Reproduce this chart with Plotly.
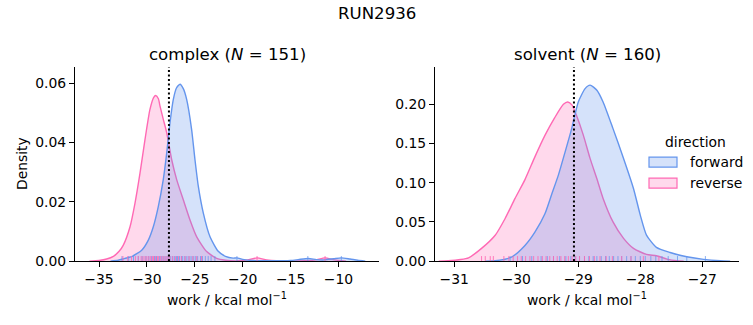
import plotly.graph_objects as go

# ---------------- data ----------------
# complex panel KDE curves
complex_rev_x = [-36.0, -35.0, -34.2, -33.5, -32.9, -32.46, -31.76, -31.24, -30.72, -30.2, -29.68,
                 -29.3, -29.08, -28.8, -28.63, -28.3, -27.93, -27.41, -26.89, -26.2, -25.5, -24.8,
                 -23.76, -22.71, -21.8, -20.5, -19.5, -18.5, -17.5, -16.5, -13.5, -12.4, -11.4,
                 -10.4, -9.2]
complex_rev_y = [0.0, 0.0002, 0.0007, 0.0016, 0.0033, 0.0054, 0.0116, 0.0196, 0.0297, 0.041, 0.0512,
                 0.0552, 0.0559, 0.0548, 0.0523, 0.048, 0.0433, 0.0342, 0.0275, 0.0207, 0.0139, 0.0082,
                 0.0032, 0.0009, 0.0003, 0.0001, 0.0004, 0.0011, 0.0004, 0.0001, 0.0001, 0.0004, 0.0011,
                 0.0004, 0.0]
complex_fwd_x = [-33.8, -33.0, -32.3, -31.59, -30.54, -29.85, -29.33, -28.81, -28.29, -27.93, -27.59,
                 -27.24, -26.9, -26.54, -26.2, -25.85, -25.33, -24.98, -24.63, -24.11, -23.41, -22.55,
                 -21.8, -21.0, -20.6, -20.0, -19.0, -17.0, -15.0, -14.2, -13.15, -12.3, -11.5, -10.5,
                 -9.7, -8.8, -8.0, -7.2]
complex_fwd_y = [0.0, 0.0003, 0.0009, 0.0015, 0.0037, 0.0071, 0.0116, 0.0184, 0.0275, 0.0365, 0.0467,
                 0.0546, 0.0585, 0.0597, 0.0582, 0.0546, 0.0444, 0.0342, 0.0252, 0.0162, 0.0082, 0.0033,
                 0.0016, 0.0010, 0.0011, 0.0006, 0.0002, 0.0001, 0.0002, 0.0005, 0.0009, 0.0005, 0.0004,
                 0.0008, 0.0011, 0.0007, 0.0003, 0.0]

# solvent panel KDE curves
solvent_rev_x = [-31.25, -31.1, -30.9, -30.77, -30.56, -30.34, -30.18, -30.02, -29.86, -29.7, -29.54,
                 -29.38, -29.24, -29.17, -29.1, -29.03, -28.92, -28.81, -28.7, -28.6, -28.44, -28.27,
                 -28.11, -27.9, -27.74, -27.57, -27.41, -27.3]
solvent_rev_y = [0.0, 0.0004, 0.002, 0.0042, 0.0162, 0.033, 0.0544, 0.08, 0.104, 0.133, 0.16,
                 0.183, 0.2, 0.203, 0.199, 0.186, 0.161, 0.131, 0.105, 0.08, 0.05, 0.029,
                 0.0162, 0.0085, 0.0068, 0.0026, 0.0004, 0.0]
solvent_fwd_x = [-30.5, -30.34, -30.07, -29.86, -29.7, -29.54, -29.43, -29.32, -29.21, -29.11, -29.0,
                 -28.89, -28.81, -28.7, -28.6, -28.44, -28.27, -28.11, -28.0, -27.9, -27.74, -27.52,
                 -27.25, -26.98, -26.71, -26.55]
solvent_fwd_y = [0.0, 0.0004, 0.0055, 0.02, 0.037, 0.06, 0.085, 0.11, 0.14, 0.168, 0.203,
                 0.22, 0.2245, 0.218, 0.203, 0.169, 0.131, 0.0927, 0.0587, 0.0332, 0.0175, 0.011,
                 0.0055, 0.0022, 0.0004, 0.0]

# rug observations (approximate)
complex_fwd_rug = [-32.6, -31.9, -31.4, -30.9, -30.5, -30.1, -29.8, -29.5, -29.2, -29.0, -28.7, -28.5,
                   -28.3, -28.1, -27.9, -27.7, -27.5, -27.3, -27.1, -26.9, -26.8, -26.6, -26.4, -26.3,
                   -26.1, -25.9, -25.7, -25.5, -25.3, -25.1, -24.9, -24.7, -24.4, -24.2, -23.9, -23.6,
                   -23.3, -22.9, -20.6, -13.2, -9.7]
complex_rev_rug = [-32.5, -32.0, -31.6, -31.2, -30.9, -30.6, -30.4, -30.2, -30.0, -29.8, -29.6, -29.4,
                   -29.3, -29.1, -28.9, -28.8, -28.6, -28.4, -28.2, -28.0, -27.8, -27.6, -27.3, -27.0,
                   -26.7, -26.4, -26.0, -25.6, -25.2, -24.8, -24.3, -18.5, -11.4]
solvent_fwd_rug = [-30.1, -29.9, -29.75, -29.6, -29.5, -29.4, -29.3, -29.2, -29.12, -29.05, -28.98,
                   -28.9, -28.83, -28.76, -28.7, -28.63, -28.56, -28.5, -28.43, -28.36, -28.3, -28.22,
                   -28.15, -28.08, -28.0, -27.92, -27.83, -27.75, -27.65, -27.55, -27.4, -27.25, -26.95]
solvent_rev_rug = [-30.56, -30.5, -30.42, -30.37, -30.2, -30.12, -30.05, -29.98, -29.92, -29.85, -29.78,
                   -29.72, -29.65, -29.58, -29.52, -29.46, -29.4, -29.34, -29.28, -29.22, -29.16, -29.1,
                   -29.04, -28.98, -28.9, -28.82, -28.74, -28.65, -28.55, -28.45, -28.3, -28.15, -27.95,
                   -27.7]

complex_mean = -27.7
solvent_mean = -29.07

complex_xticks = [-35, -30, -25, -20, -15, -10]
solvent_xticks = [-31, -30, -29, -28, -27]
complex_yticks = [0.0, 0.02, 0.04, 0.06]
solvent_yticks = [0.0, 0.05, 0.10, 0.15, 0.20]

panel_titles = ["complex (<i>N</i> = 151)", "solvent (<i>N</i> = 160)"]
suptitle = "RUN2936"
xlabel = "work / kcal mol<sup>\u22121</sup>"
ylabel = "Density"
legend_title = "direction"
legend_labels = ["forward", "reverse"]

# ---------------- style ----------------
W, H = 753, 325
VSCALE = 0.975  # compensates the vertical squeeze observed in the rendered page
BLUE = "#6495ED"
PINK = "#FF69B4"
BLUE_FILL = "rgba(100,149,237,0.27)"
PINK_FILL = "rgba(255,105,180,0.25)"
BLUE_RUG = "rgba(100,149,237,0.75)"
PINK_RUG = "rgba(255,105,180,0.85)"
FONT = "DejaVu Sans"
TICK_FS = 13.9
TITLE_FS = 16.6

ax_left = [(75, 379), (435, 739)]
ax_top, ax_bot = 67, 261
x_ranges = [[-37.505, -5.77], [-31.311, -26.408]]
y_ranges = [[0, 0.0655], [0, 0.2476]]


def px(x):
    return x / W


def py(y):
    return 1 - (y / VSCALE) / H


def fmt_minus(v, nd=0):
    s = f"{v:.{nd}f}"
    return s.replace("-", "\u2212")


fig = go.Figure()

panels = [
    (complex_rev_x, complex_rev_y, complex_fwd_x, complex_fwd_y, complex_rev_rug, complex_fwd_rug,
     complex_mean, complex_xticks, complex_yticks),
    (solvent_rev_x, solvent_rev_y, solvent_fwd_x, solvent_fwd_y, solvent_rev_rug, solvent_fwd_rug,
     solvent_mean, solvent_xticks, solvent_yticks),
]

for i, (rx, ry, fx, fy, rrug, frug, mean, xt, yt) in enumerate(panels):
    xa = "x" if i == 0 else "x2"
    ya = "y" if i == 0 else "y2"
    fig.add_trace(go.Scatter(x=rx, y=ry, mode="lines", fill="tozeroy", fillcolor=PINK_FILL,
                             line=dict(color=PINK, width=1.4, shape="spline", smoothing=0.6),
                             xaxis=xa, yaxis=ya, showlegend=False, hoverinfo="skip"))
    fig.add_trace(go.Scatter(x=fx, y=fy, mode="lines", fill="tozeroy", fillcolor=BLUE_FILL,
                             line=dict(color=BLUE, width=1.4, shape="spline", smoothing=0.6),
                             xaxis=xa, yaxis=ya, showlegend=False, hoverinfo="skip"))
    h = 0.026 * y_ranges[i][1]
    for rug, col in ((frug, BLUE_RUG), (rrug, PINK_RUG)):
        xs, ys = [], []
        for v in rug:
            xs += [v, v, None]
            ys += [0, h, None]
        fig.add_trace(go.Scatter(x=xs, y=ys, mode="lines", line=dict(color=col, width=1),
                                 xaxis=xa, yaxis=ya, showlegend=False, hoverinfo="skip"))
    fig.add_shape(type="line", xref=xa, yref=f"{ya} domain", x0=mean, x1=mean, y0=0, y1=1,
                  line=dict(color="black", width=2, dash="2px,2.5px"))

    l, r = ax_left[i]
    axis_common = dict(showline=True, linecolor="black", linewidth=1.1, ticks="outside",
                       ticklen=5, tickwidth=1.1, tickcolor="black", showgrid=False,
                       zeroline=False, mirror=False,
                       tickfont=dict(family=FONT, size=TICK_FS, color="black"))
    xkey = "xaxis" if i == 0 else "xaxis2"
    ykey = "yaxis" if i == 0 else "yaxis2"
    fig.update_layout(**{
        xkey: dict(domain=[px(l), px(r)], range=x_ranges[i], anchor=ya,
                   tickvals=xt, ticktext=[fmt_minus(v) for v in xt], **axis_common),
        ykey: dict(domain=[py(ax_bot), py(ax_top)], range=y_ranges[i], anchor=xa,
                   tickvals=yt, ticktext=[f"{v:.2f}" for v in yt], **axis_common),
    })

    cx = (l + r) / 2
    fig.add_annotation(x=px(cx), y=py(54), xref="paper", yref="paper", text=panel_titles[i],
                       showarrow=False, xanchor="center", yanchor="middle",
                       font=dict(family=FONT, size=TITLE_FS, color="black"))
    fig.add_annotation(x=px(cx), y=py(299), xref="paper", yref="paper", text=xlabel,
                       showarrow=False, xanchor="center", yanchor="middle",
                       font=dict(family=FONT, size=TICK_FS, color="black"))

fig.add_annotation(x=px(22), y=py((ax_top + ax_bot) / 2), xref="paper", yref="paper", text=ylabel,
                   textangle=-90, showarrow=False, xanchor="center", yanchor="middle",
                   font=dict(family=FONT, size=TICK_FS, color="black"))
fig.add_annotation(x=px(376.5), y=py(13), xref="paper", yref="paper", text=suptitle,
                   showarrow=False, xanchor="center", yanchor="middle",
                   font=dict(family=FONT, size=TITLE_FS, color="black"))

# legend (drawn manually, seaborn style)
fig.add_annotation(x=px(695), y=py(142), xref="paper", yref="paper", text=legend_title,
                   showarrow=False, xanchor="center", yanchor="middle",
                   font=dict(family=FONT, size=TICK_FS, color="black"))
for k, (lab, fc, lc) in enumerate(zip(legend_labels, [BLUE_FILL, PINK_FILL], [BLUE, PINK])):
    yc = 162 + 21 * k
    fig.add_shape(type="rect", xref="paper", yref="paper", x0=px(649), x1=px(677),
                  y0=py(yc - 5), y1=py(yc + 5), fillcolor=fc, line=dict(color=lc, width=1.2))
    fig.add_annotation(x=px(688), y=py(yc), xref="paper", yref="paper", text=lab,
                       showarrow=False, xanchor="left", yanchor="middle",
                       font=dict(family=FONT, size=TICK_FS, color="black"))

fig.update_layout(width=W, height=H, margin=dict(l=0, r=0, t=0, b=0, pad=0),
                  paper_bgcolor="white", plot_bgcolor="white", showlegend=False,
                  font=dict(family=FONT, color="black"))

fig.write_html("out.html",
               config={"displayModeBar": False, "responsive": False},
               post_script="document.documentElement.style.margin='0';"
                           "document.body.style.margin='0';document.body.style.padding='0';"
                           "document.documentElement.style.overflow='hidden';"
                           "document.body.style.overflow='hidden';")
